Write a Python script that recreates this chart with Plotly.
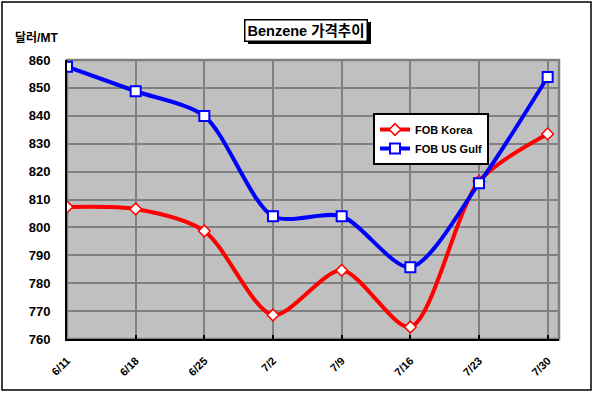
import plotly.graph_objects as go

dates = ["6/11", "6/18", "6/25", "7/2", "7/9", "7/16", "7/23", "7/30"]
fob_korea = [807.3, 806.6, 798.7, 768.6, 784.6, 764.3, 816.5, 833.5]
fob_usgulf = [857.6, 848.8, 839.9, 804.0, 804.0, 785.7, 815.8, 853.9]

xs = list(range(len(dates)))
FONT = "Liberation Sans, Arial, Noto Sans CJK KR, sans-serif"

fig = go.Figure()
fig.add_trace(go.Scatter(
    x=xs, y=fob_korea, name="FOB Korea", mode="lines+markers",
    line=dict(color="#FF0000", width=4, shape="spline", smoothing=0.8),
    marker=dict(symbol="diamond", size=9, color="white",
                line=dict(color="#FF0000", width=1.5)),
))
fig.add_trace(go.Scatter(
    x=xs, y=fob_usgulf, name="FOB US Gulf", mode="lines+markers",
    line=dict(color="#0000FF", width=4, shape="spline", smoothing=0.8),
    marker=dict(symbol="square", size=10, color="white",
                line=dict(color="#0000FF", width=2)),
))

W, H = 594, 394
L, R, T, B = 67, 35, 60, 55
pw, ph = W - L - R, H - T - B

def px(x):
    return (x - L) / pw

def py(y):
    return (H - B - y) / ph

shapes = [
    # outer chart border
    dict(type="rect", xref="paper", yref="paper", x0=px(2), x1=px(591), y0=py(390), y1=py(2),
         line=dict(color="black", width=1.5), layer="below"),
    # plot area border (gray)
    dict(type="rect", xref="paper", yref="paper", x0=0, x1=1, y0=0, y1=1,
         line=dict(color="#808080", width=2.5), layer="below"),
    # title shadow
    dict(type="rect", xref="paper", yref="paper", x0=px(248), x1=px(371), y0=py(44), y1=py(22),
         fillcolor="black", line=dict(width=0), layer="above"),
]

fig.update_layout(
    width=W, height=H,
    margin=dict(l=L, r=R, t=T, b=B),
    paper_bgcolor="white",
    plot_bgcolor="#C0C0C0",
    font=dict(family=FONT, color="black"),
    showlegend=True,
    legend=dict(x=px(373), y=py(113), xanchor="left", yanchor="top",
                bgcolor="white", bordercolor="black", borderwidth=2,
                font=dict(size=11, family=FONT, weight="bold"),
                itemwidth=30, tracegroupgap=0),
    shapes=shapes,
    annotations=[
        dict(text="Benzene 가격추이", xref="paper", yref="paper",
             x=px(306), y=py(30), xanchor="center", yanchor="middle",
             showarrow=False, bgcolor="white", bordercolor="black", borderwidth=1.5,
             borderpad=2, font=dict(size=14.5, family=FONT, weight="bold")),
        dict(text="달러/MT", xref="paper", yref="paper",
             x=px(13), y=py(38), xanchor="left", yanchor="middle",
             showarrow=False, font=dict(size=12, family=FONT, weight="bold")),
    ],
)

fig.update_xaxes(
    range=[0, 7.165], tickvals=xs, ticktext=dates, tickangle=-45,
    showgrid=True, gridcolor="#808080", gridwidth=2,
    showline=True, linecolor="black", linewidth=2,
    ticks="inside", ticklen=4, tickcolor="black", tickwidth=2,
    ticklabelstandoff=9,
    tickfont=dict(size=11, family=FONT, weight="bold"),
    zeroline=False, fixedrange=True,
)
fig.update_yaxes(
    range=[760, 860], dtick=10,
    showgrid=True, gridcolor="#808080", gridwidth=2,
    showline=True, linecolor="black", linewidth=2,
    ticks="", ticklabelstandoff=12,
    tickfont=dict(size=13, family=FONT, weight="bold"),
    zeroline=False, fixedrange=True,
)

fig.write_html("out.html", config={"displayModeBar": False, "staticPlot": True},
               post_script="document.body.style.margin='0';document.body.style.overflow='hidden';")
